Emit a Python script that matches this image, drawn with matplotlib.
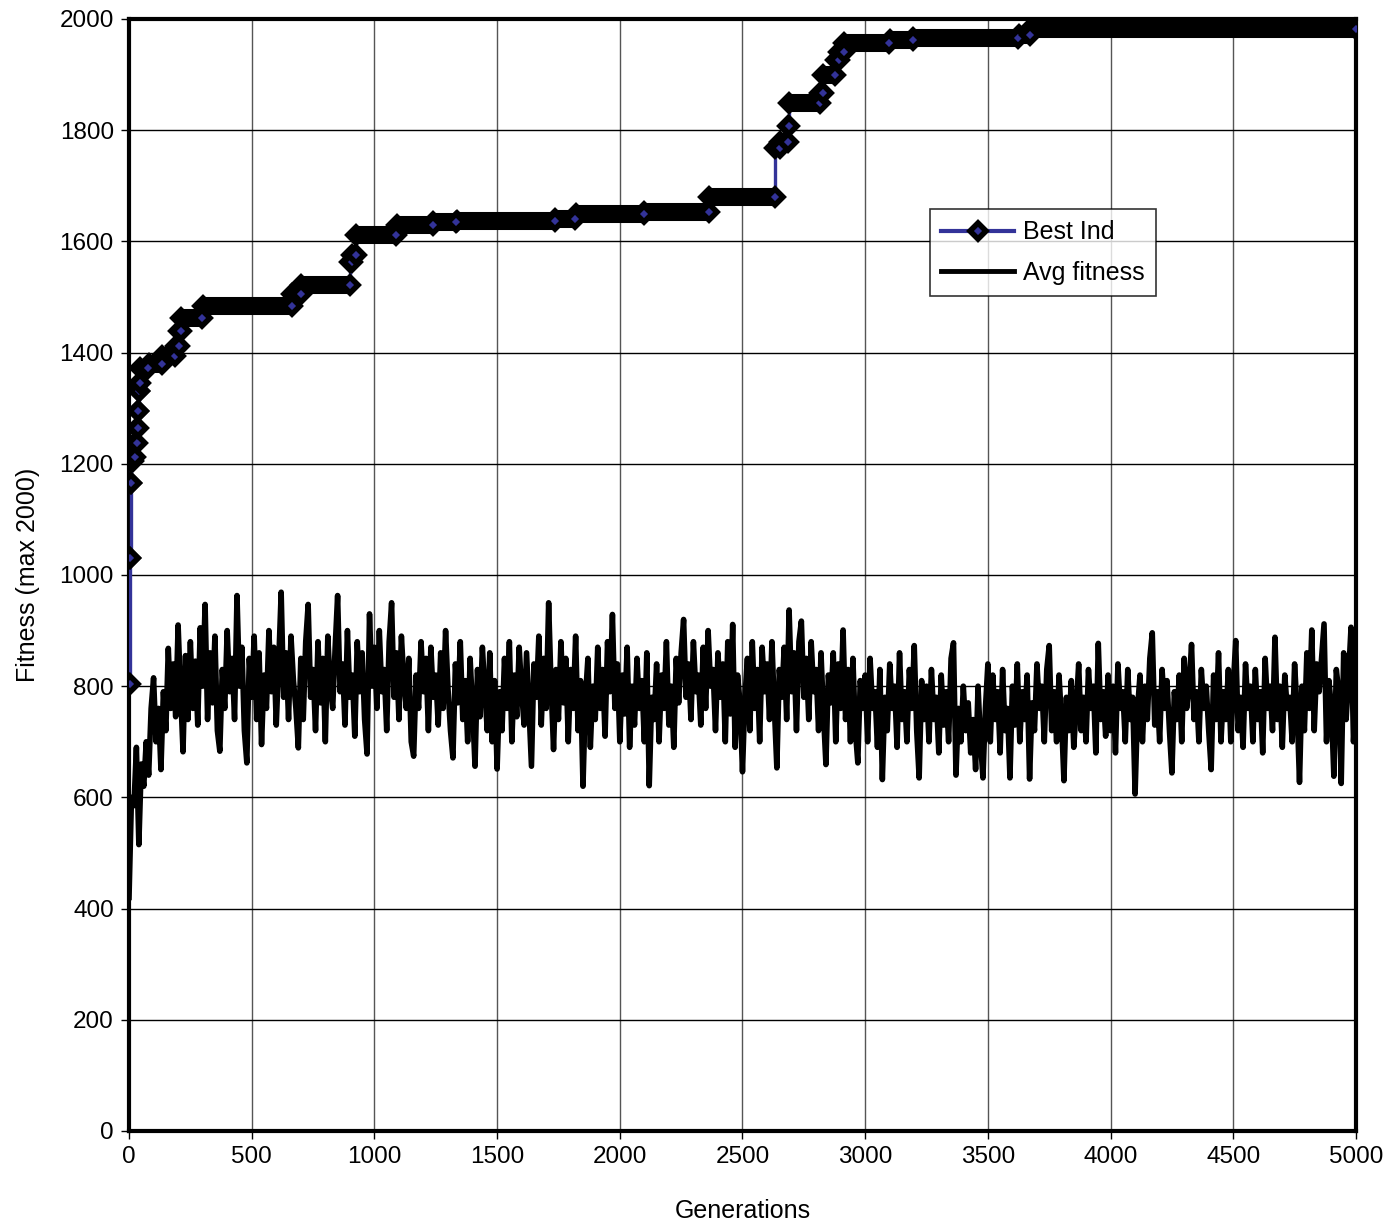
import numpy as np
import matplotlib
matplotlib.use('Agg')
import matplotlib.pyplot as plt
from matplotlib.lines import Line2D

plt.rcParams['font.family'] = ['Liberation Sans', 'DejaVu Sans']

# Best individual: generation where a new best appears, and its fitness
best_gen = [0, 3, 6, 10, 17, 26, 33, 37, 39, 41, 44, 80, 135, 190, 203, 212,
            300, 665, 700, 900, 910, 925, 1090, 1240, 1335, 1735, 1820, 2100,
            2365, 2632, 2653, 2687, 2690, 2815, 2828, 2880, 2895, 2915, 3100,
            3195, 3625, 3672]
best_fit = [803, 1030, 1165, 1205, 1213, 1237, 1264, 1294, 1330, 1345, 1372,
            1380, 1393, 1411, 1438, 1462, 1484, 1505, 1522, 1563, 1575, 1611,
            1629, 1634, 1636, 1641, 1650, 1653, 1680, 1767, 1779, 1807, 1848,
            1866, 1899, 1926, 1941, 1956, 1962, 1965, 1972, 1982]
last_gen = 5000

# Average fitness, every 10 generations (0 .. 5000)
avg_fit = [
    420, 600, 585, 690, 515, 660, 620, 700, 640, 760, 815, 700, 760, 650, 790, 720, 868, 760, 840, 745, 910, 790, 682, 855, 740,
    880, 760, 845, 730, 905, 800, 947, 740, 860, 770, 890, 720, 683, 830, 760, 900, 790, 850, 740, 963, 800, 870, 720, 662, 850,
    780, 890, 740, 860, 695, 820, 760, 900, 790, 870, 730, 845, 969, 780, 860, 740, 890, 810, 760, 689, 850, 740, 880, 947, 780,
    830, 720, 880, 770, 850, 700, 890, 800, 760, 870, 963, 790, 840, 730, 900, 780, 820, 710, 880, 790, 860, 740, 678, 930, 800,
    870, 760, 900, 790, 830, 720, 880, 950, 780, 860, 740, 890, 810, 760, 850, 700, 674, 820, 760, 880, 790, 850, 720, 870, 780,
    820, 730, 860, 760, 900, 795, 720, 671, 840, 770, 880, 740, 810, 700, 850, 760, 656, 830, 745, 870, 790, 720, 860, 700, 810,
    651, 790, 720, 850, 760, 880, 700, 820, 745, 870, 790, 730, 860, 760, 656, 840, 780, 890, 730, 850, 760, 950, 800, 686, 830,
    740, 880, 770, 850, 700, 830, 760, 890, 720, 810, 620, 780, 850, 690, 800, 740, 870, 760, 830, 710, 880, 790, 929, 760, 840,
    700, 820, 750, 870, 690, 800, 730, 850, 760, 810, 700, 860, 621, 780, 740, 840, 700, 820, 760, 880, 730, 800, 690, 850, 770,
    860, 920, 780, 840, 740, 880, 790, 820, 730, 870, 760, 900, 800, 830, 720, 860, 780, 840, 700, 880, 750, 911, 690, 820, 770,
    646, 780, 850, 720, 880, 760, 830, 700, 870, 790, 840, 740, 880, 760, 653, 830, 780, 870, 740, 937, 790, 860, 720, 880, 917,
    780, 850, 740, 880, 790, 830, 720, 860, 750, 659, 820, 770, 860, 700, 840, 760, 901, 740, 830, 700, 850, 720, 662, 810, 760,
    820, 700, 850, 760, 790, 690, 830, 632, 780, 720, 840, 760, 800, 690, 860, 740, 790, 700, 830, 760, 873, 720, 635, 810, 740,
    800, 700, 830, 740, 780, 680, 820, 730, 790, 700, 850, 878, 640, 760, 700, 800, 720, 770, 680, 740, 650, 800, 700, 635, 760,
    840, 700, 820, 740, 790, 680, 830, 720, 760, 635, 800, 730, 840, 700, 790, 740, 820, 633, 770, 720, 840, 760, 800, 700, 830,
    873, 720, 790, 700, 820, 740, 630, 780, 720, 810, 690, 760, 840, 720, 780, 700, 830, 760, 800, 680, 877, 740, 790, 710, 820,
    720, 800, 680, 840, 760, 790, 700, 830, 740, 780, 606, 760, 820, 700, 800, 740, 850, 896, 730, 790, 700, 830, 760, 810, 720,
    644, 790, 740, 820, 700, 850, 760, 800, 875, 740, 790, 700, 830, 760, 800, 720, 650, 820, 740, 860, 700, 790, 740, 830, 700,
    800, 882, 720, 780, 690, 840, 760, 800, 700, 830, 740, 790, 680, 850, 760, 800, 720, 888, 740, 800, 690, 820, 760, 780, 700,
    840, 760, 627, 800, 720, 860, 760, 901, 720, 840, 790, 850, 912, 700, 810, 760, 638, 830, 790, 625, 860, 740, 820, 906, 700,
    780]
avg_gen = np.arange(0, 10 * len(avg_fit), 10)

navy = '#333399'

fig = plt.figure(figsize=(13.95, 12.3), dpi=100)
ax = fig.add_axes([0.0925, 0.0805, 0.8795, 0.9041])

# Best Ind: thin navy step line, thick black band made of the overlapping markers
step_gen = best_gen + [last_gen]
step_fit = best_fit + [best_fit[-1]]
ax.plot(step_gen, step_fit, drawstyle='steps-post', color=navy, lw=2.4, zorder=3)
ends = [g - 1 for g in best_gen[1:]] + [last_gen]
ax.hlines(best_fit, best_gen, ends, colors='black', lw=13, zorder=4)
ax.plot(best_gen, best_fit, ls='none', marker='D', ms=8, mfc='black',
        mec='black', mew=4, zorder=4)
ax.plot(ends, best_fit, ls='none', marker='D', ms=8, mfc=navy,
        mec='black', mew=4, zorder=5)

# Avg fitness
ax.plot(avg_gen, avg_fit, color='black', lw=4.0, zorder=3)

ax.set_xlim(0, 5000)
ax.set_ylim(0, 2000)
ax.set_xticks(np.arange(0, 5001, 500))
ax.set_yticks(np.arange(0, 2001, 200))
ax.xaxis.grid(True, color='#555555', lw=1.0)
ax.yaxis.grid(True, color='black', lw=1.0)
ax.set_axisbelow(True)
for s in ax.spines.values():
    s.set_linewidth(3)
    s.set_color('black')
ax.tick_params(labelsize=17.5, length=6, width=1, pad=5)
ax.set_xlabel('Generations', fontsize=18, labelpad=22)
ax.set_ylabel('Fitness (max 2000)', fontsize=18, labelpad=14)

handles = [Line2D([], [], color=navy, lw=3, marker='D', ms=8, mfc=navy,
                  mec='black', mew=4),
           Line2D([], [], color='black', lw=3.5)]
leg = ax.legend(handles, ['Best Ind', 'Avg fitness'], loc='upper left',
                bbox_to_anchor=(0.653, 0.829), fontsize=18, frameon=True,
                fancybox=False, shadow=False, handlelength=2.9,
                handletextpad=0.35, borderaxespad=0, borderpad=0.45,
                labelspacing=0.65)
leg.get_frame().set_edgecolor('black')
leg.get_frame().set_linewidth(1.2)
leg.set_zorder(10)

fig.savefig('out.png', dpi=100, facecolor='white')
